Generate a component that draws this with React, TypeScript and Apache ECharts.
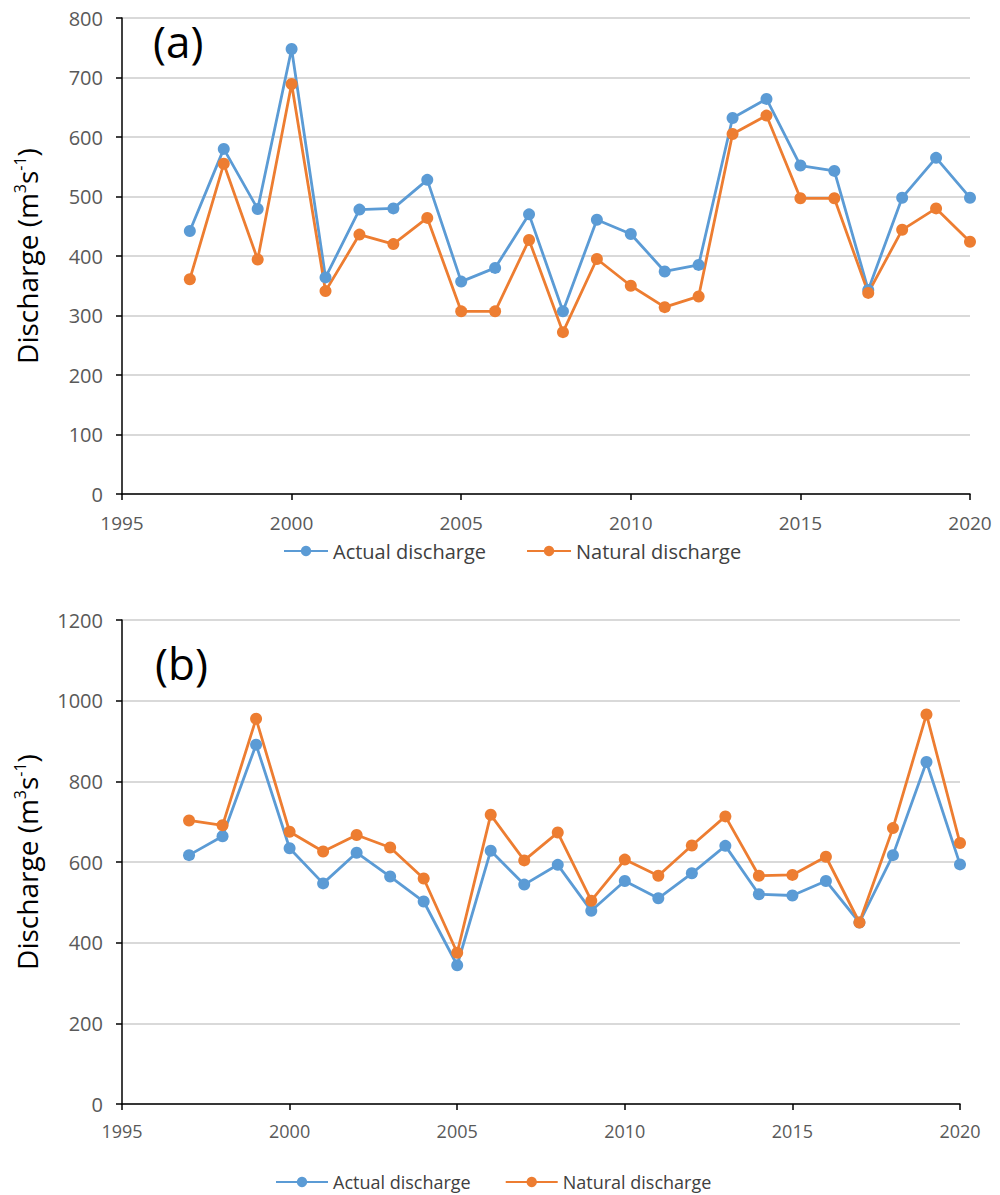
import React, { useEffect, useRef } from "react";
import * as echarts from "echarts";

const years = [1997, 1998, 1999, 2000, 2001, 2002, 2003, 2004, 2005, 2006, 2007, 2008, 2009, 2010, 2011, 2012, 2013, 2014, 2015, 2016, 2017, 2018, 2019, 2020];

// Panel (a)
const actualA = [442, 580, 479, 748, 364, 478, 480, 528, 357, 380, 470, 307, 461, 437, 374, 385, 632, 664, 552, 543, 343, 498, 565, 498];
const naturalA = [361, 555, 394, 689, 341, 436, 420, 464, 307, 307, 427, 272, 395, 350, 314, 332, 605, 636, 497, 497, 338, 444, 480, 424];

// Panel (b)
const actualB = [617, 664, 891, 634, 547, 623, 564, 502, 344, 628, 544, 593, 479, 553, 510, 572, 640, 520, 517, 553, 450, 617, 848, 594];
const naturalB = [703, 691, 955, 675, 626, 667, 636, 559, 375, 717, 604, 673, 504, 606, 566, 641, 713, 566, 568, 613, 450, 684, 966, 647];

const xTicks = { min: 1995, max: 2020, interval: 5 };
const yTicksA = { min: 0, max: 800, interval: 100 };
const yTicksB = { min: 0, max: 1200, interval: 200 };

const seriesNames = ["Actual discharge", "Natural discharge"];
const BLUE = "#5B9BD5";
const ORANGE = "#ED7D31";
const FONT = "Open Sans";

const pair = (vals: number[]) => years.map((y, i) => [y, vals[i]]);

export default function App() {
  const ref = useRef<HTMLDivElement>(null);
  useEffect(() => {
    const chart = echarts.init(ref.current!, null, { renderer: "svg" });
    const xAxisBase = (gridIndex: number, fontSize: number, margin: number) => ({
      type: "value",
      gridIndex,
      ...xTicks,
      axisLine: { show: true, onZero: false, lineStyle: { color: "#000", width: 1.5 } },
      axisTick: { show: true, length: 6, inside: false, lineStyle: { color: "#000", width: 1.5 } },
      axisLabel: { color: "#595959", fontSize, fontFamily: FONT, margin, formatter: (v: number) => String(v) },
      splitLine: { show: false },
    });
    const yAxisBase = (gridIndex: number, ticks: any, nameGap: number) => ({
      type: "value",
      gridIndex,
      ...ticks,
      name: "Discharge (m{sup|3}s{sup|-1})",
      nameLocation: "middle",
      nameGap,
      nameTextStyle: {
        color: "#000",
        fontSize: 28,
        fontFamily: FONT,
        rich: {
          sup: { fontSize: 16, fontFamily: FONT, color: "#000", verticalAlign: "top", padding: [0, 0, 14, 0] },
        },
      },
      axisLine: { show: true, lineStyle: { color: "#000", width: 1.5 } },
      axisTick: { show: true, length: 6, inside: false, lineStyle: { color: "#000", width: 1.5 } },
      axisLabel: { color: "#595959", fontSize: 20, fontFamily: FONT, margin: 19, formatter: (v: number) => String(v) },
      splitLine: { show: true, lineStyle: { color: "#D9D9D9", width: 2 } },
    });
    const lineSeries = (name: string, color: string, data: number[][], idx: number) => ({
      name,
      type: "line",
      xAxisIndex: idx,
      yAxisIndex: idx,
      data,
      symbol: "circle",
      symbolSize: 12,
      itemStyle: { color },
      lineStyle: { color, width: 2.8 },
    });
    chart.setOption({
      animation: false,
      backgroundColor: "#fff",
      grid: [
        { left: 122, top: 18, width: 848, height: 476 },
        { left: 122, top: 620, width: 838, height: 484 },
      ],
      xAxis: [xAxisBase(0, 19, 19), xAxisBase(1, 18, 18)],
      yAxis: [yAxisBase(0, yTicksA, 80), yAxisBase(1, yTicksB, 80)],
      legend: [
        {
          data: seriesNames,
          top: 536,
          left: 278,
          itemWidth: 44,
          itemHeight: 13,
          itemGap: 40,
          textStyle: { color: "#404040", fontSize: 20, fontFamily: FONT },
        },
        {
          data: seriesNames,
          top: 1168,
          left: 270,
          itemWidth: 52,
          itemHeight: 13,
          itemGap: 34,
          textStyle: { color: "#404040", fontSize: 18, fontFamily: FONT },
        },
      ],
      graphic: [
        { type: "text", left: 153, top: 19, style: { text: "(a)", fontSize: 44, fontFamily: FONT, fill: "#000" } },
        { type: "text", left: 155, top: 641, style: { text: "(b)", fontSize: 44, fontFamily: FONT, fill: "#000" } },
      ],
      series: [
        lineSeries(seriesNames[0], BLUE, pair(actualA), 0),
        lineSeries(seriesNames[1], ORANGE, pair(naturalA), 0),
        lineSeries(seriesNames[0], BLUE, pair(actualB), 1),
        lineSeries(seriesNames[1], ORANGE, pair(naturalB), 1),
      ],
    });
    return () => chart.dispose();
  }, []);
  return (
    <div
      ref={ref}
      style={{ position: "absolute", left: 0, top: 0, width: 1000, height: 1195, background: "#fff" }}
    />
  );
}
